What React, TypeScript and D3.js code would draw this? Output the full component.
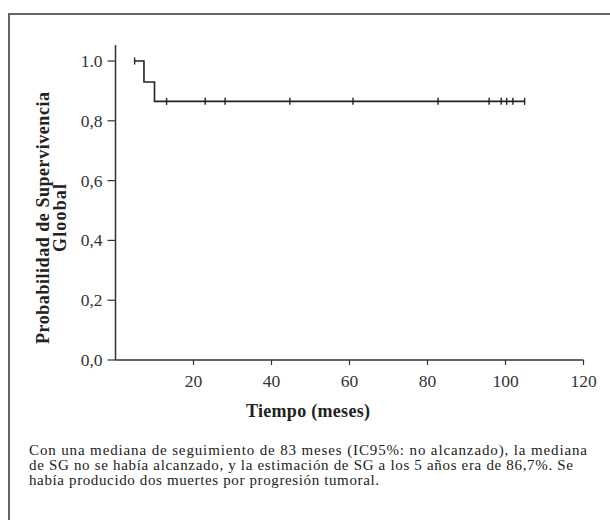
import React from "react";
import * as d3 from "d3";

// ---- data ----
const stepTimes = [4.9, 7.3, 10.0];
const stepSurvival = [1.0, 0.93, 0.865];
const endTime = 104.9;
const censorTimes = [4.9, 13.1, 23.0, 28.1, 44.7, 60.9, 82.7, 95.8, 98.9, 100.3, 101.9, 104.9];
const xTicks = [20, 40, 60, 80, 100, 120];
const yTickValues = [0, 0.2, 0.4, 0.6, 0.8, 1.0];
const yTickLabels = ["0,0", "0,2", "0,4", "0,6", "0,8", "1.0"];
const yTitleLines = ["Probabilidad de Supervivencia", "Gloobal"];
const xTitle = "Tiempo (meses)";
const captionLines = [
  "Con una mediana de seguimiento de 83 meses (IC95%: no alcanzado), la mediana",
  "de SG no se había alcanzado, y la estimación de SG a los 5 años era de 86,7%. Se",
  "había producido dos muertes por progresión tumoral.",
];

const W = 610;
const H = 520;
const FONT = "'Liberation Serif', 'DejaVu Serif', serif";

export default function App() {
  const x = d3.scaleLinear().domain([0, 120]).range([115.5, 583.5]);
  const y = d3.scaleLinear().domain([0, 1]).range([360, 61]);

  // build KM step points
  const pts: [number, number][] = [];
  stepTimes.forEach((t, i) => {
    if (i > 0) pts.push([t, stepSurvival[i - 1]]);
    pts.push([t, stepSurvival[i]]);
  });
  pts.push([endTime, stepSurvival[stepSurvival.length - 1]]);
  const line = d3
    .line<[number, number]>()
    .x((d) => x(d[0]))
    .y((d) => y(d[1]));

  const survAt = (t: number) => {
    let s = stepSurvival[0];
    stepTimes.forEach((st, i) => {
      if (t >= st) s = stepSurvival[i];
    });
    return s;
  };

  const captionWidths = [558, 544, 350];

  return (
    <svg
      width={W}
      height={H}
      style={{ position: "absolute", left: 0, top: 0, background: "#fff" }}
      fontFamily={FONT}
    >
      <rect x={9} y={14} width={700} height={600} fill="none" stroke="#666" strokeWidth={2} />

      {/* axes */}
      <line x1={x(0)} x2={x(0)} y1={45} y2={y(0)} stroke="#333" strokeWidth={1.5} />
      <line x1={x(0)} x2={x(120)} y1={y(0)} y2={y(0)} stroke="#333" strokeWidth={1.5} />
      {yTickValues.map((v, i) => (
        <g key={"yt" + i}>
          <line x1={x(0) - 8} x2={x(0)} y1={y(v)} y2={y(v)} stroke="#333" strokeWidth={1.2} />
          <text x={x(0) - 13} y={y(v) + 6} textAnchor="end" fontSize={17.5} fill="#333">
            {yTickLabels[i]}
          </text>
        </g>
      ))}
      {xTicks.map((v) => (
        <g key={"xt" + v}>
          <line x1={x(v)} x2={x(v)} y1={y(0)} y2={y(0) + 5} stroke="#333" strokeWidth={1.2} />
          <text x={x(v)} y={387} textAnchor="middle" fontSize={17.5} fill="#333">
            {v}
          </text>
        </g>
      ))}

      {/* titles */}
      {yTitleLines.map((s, i) => (
        <text
          key={"yl" + i}
          transform={`translate(${49 + i * 17},218) rotate(-90)`}
          textAnchor="middle"
          fontSize={18}
          fontWeight="bold"
          fill="#222"
          textLength={i === 0 ? 252 : 68}
          lengthAdjust="spacing"
        >
          {s}
        </text>
      ))}
      <text x={308} y={417} textAnchor="middle" fontSize={18} fontWeight="bold" fill="#222" textLength={124} lengthAdjust="spacing">
        {xTitle}
      </text>

      {/* KM curve */}
      <path d={line(pts) || ""} fill="none" stroke="#222" strokeWidth={1.6} />
      {censorTimes.map((t, i) => (
        <line
          key={"c" + i}
          x1={x(t)}
          x2={x(t)}
          y1={y(survAt(t)) - 3.5}
          y2={y(survAt(t)) + 3.5}
          stroke="#222"
          strokeWidth={1.4}
        />
      ))}

      {/* caption */}
      {captionLines.map((s, i) => (
        <text
          key={"cap" + i}
          x={29}
          y={455 + i * 15}
          fontSize={15}
          fill="#222"
          textLength={captionWidths[i]}
          lengthAdjust="spacing"
        >
          {s}
        </text>
      ))}
    </svg>
  );
}
